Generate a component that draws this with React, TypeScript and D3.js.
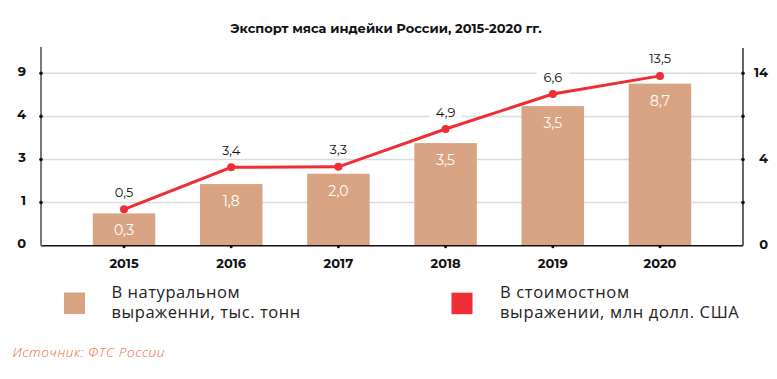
import React from "react";
import * as d3 from "d3";

// ---- Data ----
const years = ["2015", "2016", "2017", "2018", "2019", "2020"];
// volume (bars), as labelled
const volumeLabels = ["0,3", "1,8", "2,0", "3,5", "3,5", "8,7"];
// volume bar heights
const volumeValues = [0.75, 1.86, 2.34, 3.38, 5.2, 7.8];
// value (line), as labelled
const valueLabels = ["0,5", "3,4", "3,3", "4,9", "6,6", "13,5"];
// line point heights
const valueValues = [1.69, 3.64, 3.66, 7.54, 11.6, 13.7];
// axis ticks
const leftTicks = [0, 1, 3, 4, 9];
const leftTickLabels = ["0", "1", "3", "4", "9"];
const rightTicks = [0, 2, 4, 9, 14];
const rightTickLabels = ["0", "", "4", "", "14"];

const title = "Экспорт мяса индейки России, 2015-2020 гг.";
const legendVolume = ["В натуральном", "выраженни, тыс. тонн"];
const legendValue = ["В стоимостном", "выражении, млн долл. США"];
const source = "Источник: ФТС России";

const W = 777;
const H = 379;
const BAR = "#d9a484";
const RED = "#ee2d35";
const FONT = "Montserrat, 'Open Sans', 'DejaVu Sans', sans-serif";
const FONT2 = "'Open Sans', Roboto, sans-serif";

export default function App() {
  const xL = 41;
  const xR = 743;
  const yBase = 245.7;
  const yTop = 73.3;

  const idx = d3.scaleLinear().domain([0, 4]).range([yBase, yTop]);
  const yLeft = d3
    .scaleLinear()
    .domain(leftTicks)
    .range(leftTicks.map((_, i) => idx(i)));
  const yRight = d3
    .scaleLinear()
    .domain(rightTicks)
    .range(rightTicks.map((_, i) => idx(i)));

  const x = d3
    .scaleBand<string>()
    .domain(years)
    .range([xL, xR])
    .paddingInner(0.417)
    .paddingOuter(0.483);

  const cx = (d: string) => (x(d) as number) + x.bandwidth() / 2;

  const line = d3
    .line<number>()
    .x((_, i) => cx(years[i]))
    .y((v) => yRight(v));

  return (
    <svg
      width={W}
      height={H}
      style={{ position: "absolute", left: 0, top: 0, background: "#fff" }}
    >
      <text
        x={386}
        y={33}
        textAnchor="middle"
        fontFamily={FONT}
        fontWeight={700}
        fontSize={13}
        fill="#111"
      >
        {title}
      </text>

      {/* gridlines */}
      {leftTicks.slice(1).map((t) => (
        <line
          key={"g" + t}
          x1={xL}
          x2={xR}
          y1={yLeft(t)}
          y2={yLeft(t)}
          stroke="#dcdcdc"
          strokeWidth={1.5}
        />
      ))}

      {/* bars */}
      {years.map((yr, i) => (
        <rect
          key={"b" + yr}
          x={x(yr)}
          y={yLeft(volumeValues[i])}
          width={x.bandwidth()}
          height={yBase - yLeft(volumeValues[i])}
          fill={BAR}
        />
      ))}
      {years.map((yr, i) => (
        <text
          key={"bl" + yr}
          x={cx(yr)}
          y={yLeft(volumeValues[i]) + 17}
          dy="0.35em"
          textAnchor="middle"
          fontFamily={FONT}
          fontSize={14}
          fill="#fff"
        >
          {volumeLabels[i]}
        </text>
      ))}

      {/* baseline */}
      <line x1={xL} x2={xR} y1={yBase} y2={yBase} stroke="#111" strokeWidth={1.5} />

      {/* axes */}
      <line x1={xL} x2={xL} y1={47} y2={yBase} stroke="#7a7a7a" strokeWidth={2} />
      <line x1={xR} x2={xR} y1={48} y2={yBase} stroke="#333" strokeWidth={1.5} />
      {leftTicks.slice(1).map((t) => (
        <circle key={"lt" + t} cx={xL} cy={yLeft(t)} r={1.8} fill="#111" />
      ))}
      {rightTicks.slice(1).map((t) => (
        <circle key={"rt" + t} cx={xR} cy={yRight(t)} r={1.8} fill="#111" />
      ))}
      {years.map((yr) => (
        <circle key={"xt" + yr} cx={cx(yr)} cy={yBase + 1} r={1.5} fill="#111" />
      ))}
      {leftTicks.map((t, i) => (
        <text
          key={"ll" + t}
          x={26}
          y={yLeft(t) - 2}
          dy="0.35em"
          textAnchor="end"
          fontFamily={FONT}
          fontWeight={700}
          fontSize={13}
          fill="#111"
        >
          {leftTickLabels[i]}
        </text>
      ))}
      {rightTicks.map((t, i) => (
        <text
          key={"rl" + t}
          x={768}
          y={yRight(t) - 1}
          dy="0.35em"
          textAnchor="end"
          fontFamily={FONT}
          fontWeight={700}
          fontSize={13}
          fill="#111"
        >
          {rightTickLabels[i]}
        </text>
      ))}
      {years.map((yr) => (
        <text
          key={"xl" + yr}
          x={cx(yr)}
          y={263}
          dy="0.35em"
          textAnchor="middle"
          fontFamily={FONT}
          fontWeight={700}
          fontSize={13}
          fill="#111"
        >
          {yr}
        </text>
      ))}

      {/* line */}
      <path d={line(valueValues) || ""} fill="none" stroke={RED} strokeWidth={3} />
      {valueValues.map((v, i) => (
        <circle key={"p" + i} cx={cx(years[i])} cy={yRight(v)} r={4} fill={RED} />
      ))}
      {valueValues.map((v, i) => (
        <g key={"pl" + i}>
          <rect
            x={cx(years[i]) - 16}
            y={yRight(v) - 25}
            width={32}
            height={16}
            fill="#fff"
          />
          <text
            x={cx(years[i])}
            y={yRight(v) - 17}
            dy="0.35em"
            textAnchor="middle"
            fontFamily={FONT}
            fontSize={13}
            fill="#111"
          >
            {valueLabels[i]}
          </text>
        </g>
      ))}

      {/* legend */}
      <rect x={64} y={292.5} width={21} height={21.5} fill={BAR} />
      <rect x={451.5} y={292.7} width={21} height={21.5} fill={RED} />
      <text
        x={111.5}
        y={298.3}
        fontFamily={FONT2}
        fontSize={16.5}
        letterSpacing={0.55}
        fill="#222"
      >
        {legendVolume.map((s, i) => (
          <tspan key={"lv" + i} x={111.5} dy={i === 0 ? 0 : 19.5}>
            {s}
          </tspan>
        ))}
      </text>
      <text
        x={500}
        y={298.3}
        fontFamily={FONT2}
        fontSize={16.5}
        letterSpacing={0.65}
        fill="#222"
      >
        {legendValue.map((s, i) => (
          <tspan key={"lr" + i} x={500} dy={i === 0 ? 0 : 19.5}>
            {s}
          </tspan>
        ))}
      </text>

      <text
        x={12.5}
        y={357}
        fontFamily={FONT2}
        fontStyle="italic"
        fontWeight={300}
        fontSize={13.5}
        letterSpacing={0.6}
        fill="#ee6535"
      >
        {source}
      </text>
    </svg>
  );
}
